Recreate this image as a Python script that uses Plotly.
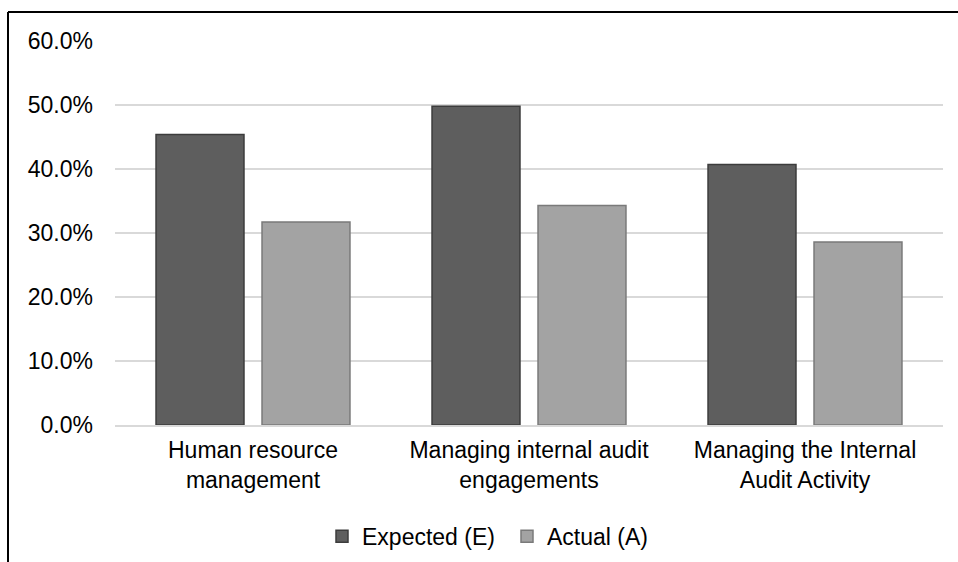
import plotly.graph_objects as go

categories = ["Human resource<br>management", "Managing internal audit<br>engagements", "Managing the Internal<br>Audit Activity"]
expected = [0.454, 0.498, 0.407]
actual = [0.317, 0.343, 0.286]
series_names = ["Expected (E)", "Actual (A)"]
tick_vals = [0, 0.1, 0.2, 0.3, 0.4, 0.5, 0.6]

W, H = 958, 562
L, R, T, B = 115, 15, 40.5, 136.5
pw = W - L - R
ph = H - T - B

fig = go.Figure()
fig.add_trace(go.Bar(x=categories, y=expected, name=series_names[0],
                     marker=dict(color="#5e5e5e", line=dict(color="#3c3c3c", width=1.5))))
fig.add_trace(go.Bar(x=categories, y=actual, name=series_names[1],
                     marker=dict(color="#a3a3a3", line=dict(color="#7a7a7a", width=1.5))))

font = "Liberation Sans, Arial, sans-serif"
fig.update_layout(
    width=W, height=H,
    margin=dict(l=L, r=R, t=T, b=B, autoexpand=False),
    paper_bgcolor="white", plot_bgcolor="white",
    barmode="group", bargap=0.232, bargroupgap=0.17,
    font=dict(family=font, size=23, color="#000000"),
    showlegend=True,
    legend=dict(orientation="h", x=(322 - L) / pw, xanchor="left", y=(T + ph - 537) / ph, yanchor="middle",
                font=dict(size=23), entrywidth=140, entrywidthmode="pixels", traceorder="normal"),
    xaxis=dict(showgrid=False, showline=True, linecolor="#d9d9d9", linewidth=1.5,
               tickfont=dict(size=23), ticks="", ticklabelstandoff=4),
    yaxis=dict(range=[0, 0.6], tickvals=tick_vals, tickformat=".1%", showgrid=True,
               gridcolor="#d9d9d9", gridwidth=1.5, zeroline=False, showline=False,
               ticklabelstandoff=21, tickfont=dict(size=23)),
    shapes=[
        dict(type="line", xref="paper", yref="paper",
             x0=(8 - L) / pw, x1=(W + 20 - L) / pw,
             y0=(T + ph - 11.5) / ph, y1=(T + ph - 11.5) / ph,
             line=dict(color="black", width=2)),
        dict(type="line", xref="paper", yref="paper",
             x0=(8 - L) / pw, x1=(8 - L) / pw,
             y0=(T + ph - 11.5) / ph, y1=(T + ph - H - 20) / ph,
             line=dict(color="black", width=2)),
    ],
)
fig.write_html("out.html", config={"displayModeBar": False},
               post_script="document.body.style.margin='0';document.body.style.overflow='hidden';")
